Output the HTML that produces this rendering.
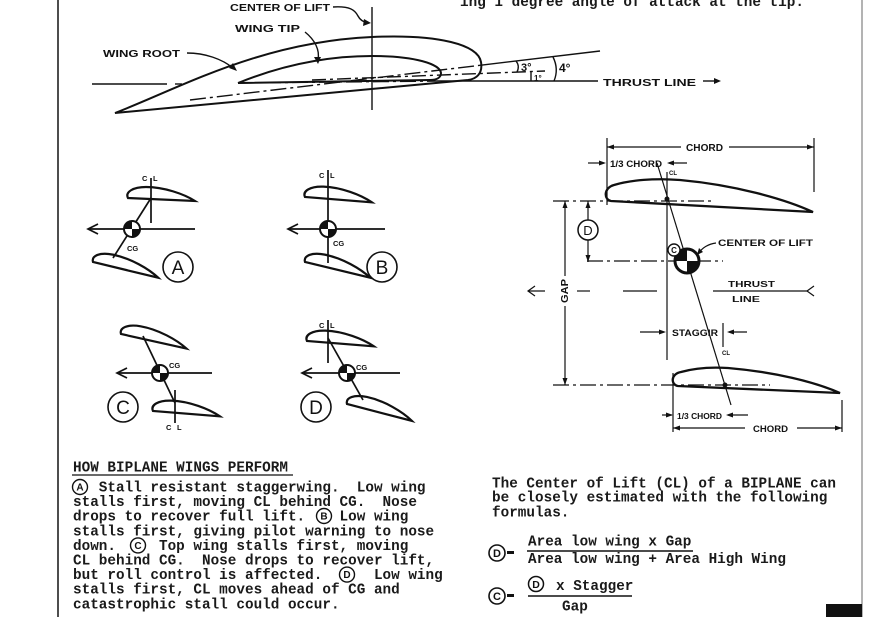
<!DOCTYPE html>
<html><head><meta charset="utf-8">
<style>
html,body{margin:0;padding:0;background:#fff;}
svg{display:block;}
.m{font-family:"Liberation Mono",monospace;font-size:14.33px;font-weight:bold;fill:#1a1a1a;}
.h{font-family:"Liberation Sans",sans-serif;font-weight:bold;fill:#111;}
</style></head><body>
<svg width="874" height="617" viewBox="0 0 874 617" xmlns="http://www.w3.org/2000/svg">
<defs>
<path id="wing" d="M0,0 C-3,-6 5,-11 18,-11 C36,-11 56,-4 67,3 Z" fill="none" stroke="#111" stroke-width="2.2"/>
<g id="cg"><circle r="8" fill="#fff" stroke="#111" stroke-width="2"/><path d="M0,0 L-8,0 A8,8 0 0 1 0,-8 Z M0,0 L8,0 A8,8 0 0 1 0,8 Z" fill="#111"/></g>
</defs>

<!-- page borders -->
<line x1="58" y1="0" x2="58" y2="617" stroke="#222" stroke-width="1.6"/>
<line x1="862" y1="0" x2="862" y2="617" stroke="#8a8a8a" stroke-width="1.3"/>
<rect x="826" y="604" width="36" height="13" fill="#111"/>

<!-- top clipped text -->
<text class="m" x="460" y="6" xml:space="preserve">ing 1 degree angle of attack at the tip.</text>

<!-- ===== TOP DIAGRAM ===== -->
<g fill="none" stroke="#111" stroke-width="2">
<path d="M115,113 C180,88 260,42 372,37 C440,34 478,45 481,62 C483,74 476,79 468,80 L115,113 Z"/>
<path d="M238,83 C275,68 320,56 372,56 C415,56 440,64 441,73 C441,78 436,80 430,80 L238,83"/>
</g>
<g fill="none" stroke="#111" stroke-width="1.4">
<line x1="372" y1="7" x2="372" y2="110"/>
<line x1="92" y1="84" x2="167" y2="84"/>
<line x1="175" y1="84" x2="182" y2="84"/>
<line x1="238" y1="83" x2="440" y2="81" stroke-dasharray="16 4 3 4"/>
<line x1="440" y1="81" x2="598" y2="81"/>
<line x1="190" y1="100" x2="480" y2="65.3" stroke-dasharray="16 4 3 4"/>
<line x1="480" y1="65.3" x2="600" y2="51"/>
<line x1="312" y1="80" x2="545" y2="71" stroke-dasharray="14 4 3 4"/>
<path d="M516,61 Q520,66 517,72"/>
<line x1="531" y1="72" x2="531" y2="81"/>
<path d="M553,57 Q559,69 554,81"/>
<!-- label arrows -->
<path d="M333,7 C350,6 355,10 358,16 C360,20 363,22 368,23"/>
<path d="M305,32 C315,40 320,50 318,60"/>
<path d="M187,53 C205,53 222,59 233,68"/>
<line x1="703" y1="81" x2="718" y2="81"/>
</g>
<g fill="#111">
<polygon points="371,23 364,19 363,26"/>
<polygon points="318,64 314,57 321,57"/>
<polygon points="237,71 229,68 233,63"/>
<polygon points="721,81 714,78 714,84"/>
</g>
<text class="h" x="230" y="11" font-size="10" textLength="100" lengthAdjust="spacingAndGlyphs">CENTER OF LIFT</text>
<text class="h" x="235" y="32" font-size="10" textLength="65" lengthAdjust="spacingAndGlyphs">WING TIP</text>
<text class="h" x="103" y="57" font-size="10" textLength="77" lengthAdjust="spacingAndGlyphs">WING ROOT</text>
<text class="h" x="603" y="86" font-size="10.5" textLength="93" lengthAdjust="spacingAndGlyphs">THRUST LINE</text>
<text class="h" x="521" y="71" font-size="11">3°</text>
<text class="h" x="534" y="81" font-size="8">1°</text>
<text class="h" x="559" y="72" font-size="12">4°</text>

<!-- ===== LEFT FOUR DIAGRAMS ===== -->
<g fill="none" stroke="#111" stroke-width="1.7">
<!-- A -->
<line x1="151" y1="178" x2="151" y2="223"/>
<line x1="151" y1="198" x2="113" y2="258"/>
<line x1="88" y1="229" x2="195" y2="229"/>
<polyline points="98,224 88,229 98,234"/>
<!-- B -->
<line x1="328" y1="170" x2="328" y2="263"/>
<line x1="288" y1="229" x2="385" y2="229"/>
<polyline points="298,224 288,229 298,234"/>
<!-- C -->
<line x1="143" y1="336" x2="175" y2="403"/>
<line x1="117" y1="373" x2="212" y2="373"/>
<polyline points="127,368 117,373 127,378"/>
<line x1="175" y1="390" x2="175" y2="423"/>
<!-- D -->
<line x1="328" y1="320" x2="328" y2="363"/>
<line x1="328" y1="338" x2="363" y2="400"/>
<line x1="302" y1="373" x2="400" y2="373"/>
<polyline points="312,368 302,373 312,378"/>
</g>
<use href="#wing" transform="translate(128,198)"/>
<use href="#wing" transform="translate(93,262) rotate(11)"/>
<use href="#wing" transform="translate(305,197) rotate(2)"/>
<use href="#wing" transform="translate(305,262) rotate(11)"/>
<use href="#wing" transform="translate(121,334) rotate(10)"/>
<use href="#wing" transform="translate(153,411) rotate(2)"/>
<use href="#wing" transform="translate(307,341) rotate(2)"/>
<use href="#wing" transform="translate(347,404) rotate(12)"/>
<use href="#cg" transform="translate(132,229)"/>
<use href="#cg" transform="translate(328,229)"/>
<use href="#cg" transform="translate(160,373)"/>
<use href="#cg" transform="translate(347,373)"/>
<g class="h" font-size="7.5">
<text x="142" y="181">C</text><text x="153" y="181">L</text>
<text x="319" y="178">C</text><text x="330" y="178">L</text>
<text x="166" y="430">C</text><text x="177" y="430">L</text>
<text x="319" y="328">C</text><text x="330" y="328">L</text>
<text x="127" y="251">CG</text>
<text x="333" y="246">CG</text>
<text x="169" y="368">CG</text>
<text x="356" y="370">CG</text>
</g>
<g fill="none" stroke="#111" stroke-width="1.6">
<circle cx="178" cy="267" r="15"/>
<circle cx="382" cy="267" r="15"/>
<circle cx="123" cy="407" r="15"/>
<circle cx="316" cy="407" r="15"/>
</g>
<g font-family="Liberation Sans,sans-serif" font-size="19" fill="#111" text-anchor="middle">
<text x="178" y="274">A</text>
<text x="382" y="274">B</text>
<text x="123" y="414">C</text>
<text x="316" y="414">D</text>
</g>

<!-- ===== RIGHT DIAGRAM ===== -->
<g fill="none" stroke="#111">
<path stroke-width="2.3" d="M611,201 C604,200 603,188 614,185 C630,180 655,178 680,180 C735,185 785,199 813,212 L611,201 Z"/>
<path stroke-width="2.3" d="M678,386 C671,385 670,374 681,372 C695,368 712,367 728,368 C775,372 815,382 840,393 L678,386 Z"/>
<g stroke-width="1.2">
<line x1="607" y1="138" x2="607" y2="205"/>
<line x1="814" y1="138" x2="814" y2="192"/>
<line x1="607" y1="147" x2="681" y2="147"/>
<line x1="729" y1="147" x2="814" y2="147"/>
<line x1="588" y1="163" x2="604" y2="163"/>
<line x1="687" y1="163" x2="669" y2="163"/>
<line x1="667" y1="172" x2="667" y2="360"/>
<line x1="657" y1="163" x2="731" y2="405"/>
<line x1="553" y1="201" x2="713" y2="201" stroke-dasharray="16 4 3 4"/>
<line x1="587" y1="261" x2="723" y2="261" stroke-dasharray="16 4 3 4"/>
<line x1="553" y1="385" x2="770" y2="385" stroke-dasharray="16 4 3 4"/>
<line x1="565" y1="201" x2="565" y2="276"/>
<line x1="565" y1="306" x2="565" y2="385"/>
<line x1="588" y1="201" x2="588" y2="220"/>
<line x1="588" y1="240" x2="588" y2="262"/>
<path d="M716,243 C708,244 702,248 699,253"/>
<line x1="528" y1="291" x2="545" y2="291"/>
<polyline points="535,286 528,291 535,296"/>
<line x1="577" y1="291" x2="590" y2="291"/>
<line x1="623" y1="291" x2="657" y2="291"/>
<line x1="713" y1="291" x2="808" y2="291"/>
<polyline points="814,286 807,291 814,296"/>
<line x1="640" y1="332" x2="664" y2="332"/>
<line x1="747" y1="332" x2="729" y2="332"/>
<line x1="723" y1="323" x2="723" y2="347"/>
<line x1="673" y1="373" x2="673" y2="432"/>
<line x1="842" y1="400" x2="842" y2="432"/>
<line x1="662" y1="415" x2="672" y2="415"/>
<line x1="748" y1="415" x2="728" y2="415"/>
<line x1="673" y1="428" x2="745" y2="428"/>
<line x1="797" y1="428" x2="842" y2="428"/>
</g>
</g>
<g fill="#111">
<polygon points="607,147 614,144.5 614,149.5"/>
<polygon points="814,147 807,144.5 807,149.5"/>
<polygon points="606,163 599,160.5 599,165.5"/>
<polygon points="667,163 674,160.5 674,165.5"/>
<polygon points="565,201 562.5,208 567.5,208"/>
<polygon points="565,385 562.5,378 567.5,378"/>
<polygon points="588,201 585.5,208 590.5,208"/>
<polygon points="588,262 585.5,255 590.5,255"/>
<polygon points="697,255 699,248 703,252"/>
<polygon points="666,332 659,329.5 659,334.5"/>
<polygon points="727,332 734,329.5 734,334.5"/>
<polygon points="673,415 666,412.5 666,417.5"/>
<polygon points="726,415 733,412.5 733,417.5"/>
<polygon points="673,428 680,425.5 680,430.5"/>
<polygon points="842,428 835,425.5 835,430.5"/>
<circle cx="667" cy="199" r="2.5"/>
<circle cx="725" cy="385" r="2.5"/>
</g>
<use href="#cg" transform="translate(687,261) scale(1.5)"/>
<circle cx="674" cy="250" r="6" fill="#fff" stroke="#111" stroke-width="1.4"/>
<text class="h" x="674" y="253" font-size="8" text-anchor="middle">C</text>
<circle cx="588" cy="230" r="10" fill="none" stroke="#111" stroke-width="1.5"/>
<text x="588" y="235" font-family="Liberation Sans,sans-serif" font-size="13" text-anchor="middle" fill="#111">D</text>
<text class="h" x="686" y="151" font-size="10" textLength="37" lengthAdjust="spacingAndGlyphs">CHORD</text>
<text class="h" x="610" y="167" font-size="9" textLength="52" lengthAdjust="spacingAndGlyphs">1/3 CHORD</text>
<text class="h" x="669" y="175" font-size="6">CL</text>
<text class="h" x="718" y="246" font-size="9.5" textLength="95" lengthAdjust="spacingAndGlyphs">CENTER OF LIFT</text>
<text class="h" x="728" y="287" font-size="8.5" textLength="47" lengthAdjust="spacingAndGlyphs">THRUST</text>
<text class="h" x="732" y="302" font-size="8.5" textLength="28" lengthAdjust="spacingAndGlyphs">LINE</text>
<text class="h" x="672" y="336" font-size="9" textLength="46" lengthAdjust="spacingAndGlyphs">STAGGIR</text>
<text class="h" x="722" y="355" font-size="6">CL</text>
<text class="h" x="677" y="419" font-size="8" textLength="45" lengthAdjust="spacingAndGlyphs">1/3 CHORD</text>
<text class="h" x="753" y="432" font-size="9" textLength="35" lengthAdjust="spacingAndGlyphs">CHORD</text>
<text class="h" transform="translate(568,291) rotate(-90)" font-size="10" text-anchor="middle" textLength="24" lengthAdjust="spacingAndGlyphs">GAP</text>

<!-- ===== LEFT TEXT ===== -->
<text class="m" x="73" y="471.5">HOW BIPLANE WINGS PERFORM</text>
<line x1="72" y1="475" x2="293" y2="475" stroke="#111" stroke-width="1.3"/>
<g class="m">
<text x="73" y="491.5" xml:space="preserve">   Stall resistant staggerwing.  Low wing</text>
<text x="73" y="506.1" xml:space="preserve">stalls first, moving CL behind CG.  Nose</text>
<text x="73" y="520.7" xml:space="preserve">drops to recover full lift.    Low wing</text>
<text x="73" y="535.3" xml:space="preserve">stalls first, giving pilot warning to nose</text>
<text x="73" y="549.9" xml:space="preserve">down.     Top wing stalls first, moving</text>
<text x="73" y="564.5" xml:space="preserve">CL behind CG.  Nose drops to recover lift,</text>
<text x="73" y="579.1" xml:space="preserve">but roll control is affected.      Low wing</text>
<text x="73" y="593.7" xml:space="preserve">stalls first, CL moves ahead of CG and</text>
<text x="73" y="608.3" xml:space="preserve">catastrophic stall could occur.</text>
</g>
<g fill="none" stroke="#111" stroke-width="1.4">
<circle cx="80" cy="487" r="7.5"/>
<circle cx="324" cy="516" r="7.5"/>
<circle cx="138" cy="545.4" r="7.5"/>
<circle cx="347" cy="574.6" r="7.5"/>
</g>
<g font-family="Liberation Sans,sans-serif" font-weight="bold" font-size="10" fill="#111" text-anchor="middle">
<text x="80" y="490.6">A</text>
<text x="324" y="519.6">B</text>
<text x="138" y="549">C</text>
<text x="347" y="578.2">D</text>
</g>

<!-- ===== RIGHT TEXT ===== -->
<text class="m" x="492" y="487.5">The Center of Lift (CL) of a BIPLANE can</text>
<text class="m" x="492" y="501.5">be closely estimated with the following</text>
<text class="m" x="492" y="516.5">formulas.</text>

<circle cx="497" cy="553" r="8" fill="none" stroke="#111" stroke-width="1.6"/>
<text x="497" y="557" font-family="Liberation Sans,sans-serif" font-weight="bold" font-size="11" text-anchor="middle" fill="#111">D</text>
<rect x="507" y="551" width="7" height="3" fill="#111"/>
<text class="m" x="528" y="545.5">Area low wing x Gap</text>
<line x1="527" y1="551" x2="693" y2="551" stroke="#111" stroke-width="1.5"/>
<text class="m" x="528" y="563">Area low wing + Area High Wing</text>

<circle cx="497" cy="596" r="8" fill="none" stroke="#111" stroke-width="1.6"/>
<text x="497" y="600" font-family="Liberation Sans,sans-serif" font-weight="bold" font-size="11" text-anchor="middle" fill="#111">C</text>
<rect x="507" y="594" width="7" height="3" fill="#111"/>
<circle cx="536" cy="584" r="7.5" fill="none" stroke="#111" stroke-width="1.5"/>
<text x="536" y="588" font-family="Liberation Sans,sans-serif" font-weight="bold" font-size="10.5" text-anchor="middle" fill="#111">D</text>
<text class="m" x="556" y="590" xml:space="preserve">x Stagger</text>
<line x1="528" y1="596" x2="632" y2="596" stroke="#111" stroke-width="1.5"/>
<text class="m" x="562" y="610.5">Gap</text>
</svg>
</body></html>
